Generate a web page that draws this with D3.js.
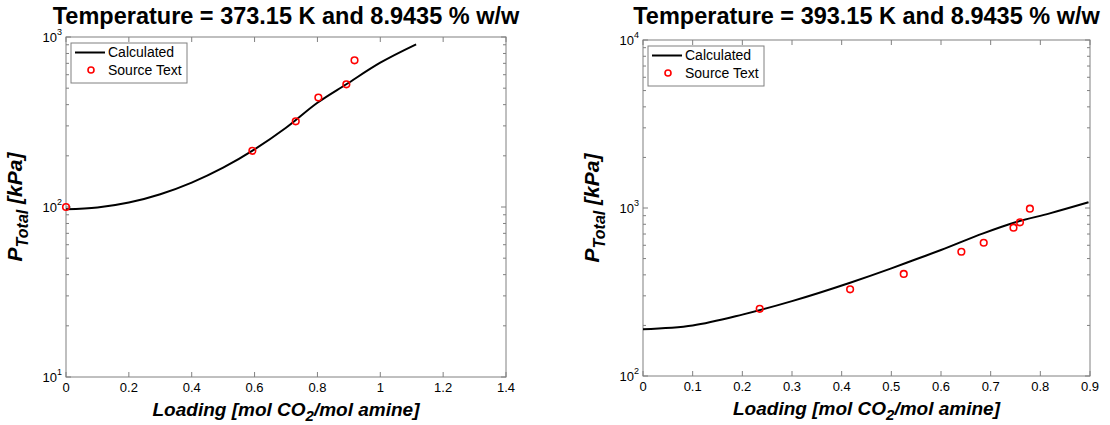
<!DOCTYPE html>
<html>
<head>
<meta charset="utf-8">
<script src="https://cdn.jsdelivr.net/npm/d3@7"></script>
<style>
  body { margin: 0; background: #fff; }
  svg { display: block; font-family: "Liberation Sans", Arial, sans-serif; }
</style>
</head>
<body>
<svg id="chart" width="1110" height="425"></svg>
<script>
// left panel: 373.15 K
var calcX1 = [0, 0.1, 0.2, 0.3, 0.4, 0.5, 0.6, 0.7, 0.8, 0.892, 1.0, 1.114];
var calcY1 = [97, 99.3, 106.2, 118.9, 139.2, 170.4, 218.3, 292.4, 410.2, 527.2, 706.3, 905.7];
var srcX1 = [0, 0.593, 0.731, 0.803, 0.892, 0.918];
var srcY1 = [100, 214, 319, 440, 527, 729];

// right panel: 393.15 K
var calcX2 = [0, 0.1, 0.2, 0.3, 0.417, 0.5, 0.551, 0.6, 0.685, 0.75, 0.819, 0.897];
var calcY2 = [190, 200, 232, 279, 359, 437, 497, 562, 706, 822, 929, 1081];
var srcX2 = [0.235, 0.417, 0.525, 0.641, 0.686, 0.746, 0.759, 0.779];
var srcY2 = [251, 328, 405, 549, 621, 764, 822, 991];

var xTicks1 = [0, 0.2, 0.4, 0.6, 0.8, 1, 1.2, 1.4];
var xTicks2 = [0, 0.1, 0.2, 0.3, 0.4, 0.5, 0.6, 0.7, 0.8, 0.9];

var svg = d3.select('#chart');
var AXIS = '#808080';

function panel(opt) {
    var x = d3.scaleLinear().domain(opt.xDomain).range([opt.left, opt.right]);
    var y = d3.scaleLog().domain(opt.yDomain).range([opt.bottom, opt.top]);
    var g = svg.append('g');

    // title
    g.append('text')
        .attr('x', (opt.left + opt.right) / 2)
        .attr('y', 24)
        .attr('text-anchor', 'middle')
        .style('font-size', '23.5px')
        .style('font-weight', 'bold')
        .text(opt.title);

    // box
    g.append('rect')
        .attr('x', opt.left).attr('y', opt.top)
        .attr('width', opt.right - opt.left)
        .attr('height', opt.bottom - opt.top)
        .attr('fill', 'none')
        .attr('stroke', AXIS)
        .attr('stroke-width', 1);

    // x ticks, inward on bottom and top
    opt.xTicks.forEach(function (t) {
        var px = x(t);
        g.append('line').attr('x1', px).attr('x2', px)
            .attr('y1', opt.bottom).attr('y2', opt.bottom - 5)
            .attr('stroke', AXIS);
        g.append('line').attr('x1', px).attr('x2', px)
            .attr('y1', opt.top).attr('y2', opt.top + 5)
            .attr('stroke', AXIS);
        g.append('text')
            .attr('x', px).attr('y', opt.bottom + 15)
            .attr('text-anchor', 'middle')
            .style('font-size', '13px')
            .text(d3.format('~g')(t));
    });

    // y ticks: majors + log minors
    var lo = Math.log10(opt.yDomain[0]), hi = Math.log10(opt.yDomain[1]);
    for (var e = lo; e <= hi; e++) {
        for (var m = 1; m < 10; m++) {
            var v = m * Math.pow(10, e);
            if (v > opt.yDomain[1]) break;
            var py = y(v);
            var len = m === 1 ? 5 : 3;
            g.append('line').attr('x1', opt.left).attr('x2', opt.left + len)
                .attr('y1', py).attr('y2', py).attr('stroke', AXIS);
            g.append('line').attr('x1', opt.right).attr('x2', opt.right - len)
                .attr('y1', py).attr('y2', py).attr('stroke', AXIS);
        }
        var lbl = g.append('text')
            .attr('x', opt.left - 4).attr('y', y(Math.pow(10, e)) + 5)
            .attr('text-anchor', 'end')
            .style('font-size', '13px');
        lbl.append('tspan').text('10');
        lbl.append('tspan').attr('dy', -7).style('font-size', '9px').text(e);
    }

    // axis labels
    var xl = g.append('text')
        .attr('x', (opt.left + opt.right) / 2)
        .attr('y', opt.bottom + 39)
        .attr('text-anchor', 'middle')
        .style('font-size', '19px')
        .style('font-weight', 'bold')
        .style('font-style', 'italic');
    xl.append('tspan').text('Loading [mol CO');
    xl.append('tspan').attr('dy', 5).style('font-size', '15px').text('2');
    xl.append('tspan').attr('dy', -5).text('/mol amine]');

    var ly = (opt.top + opt.bottom) / 2;
    var yl = g.append('text')
        .attr('transform', 'translate(' + (opt.left - 44) + ',' + ly + ') rotate(-90)')
        .attr('text-anchor', 'middle')
        .style('font-size', '21px')
        .style('font-weight', 'bold')
        .style('font-style', 'italic');
    yl.append('tspan').text('P');
    yl.append('tspan').attr('dy', 6).style('font-size', '16px').text('Total');
    yl.append('tspan').attr('dy', -6).text(' [kPa]');

    // calculated curve
    var line = d3.line()
        .x(function (d) { return x(d[0]); })
        .y(function (d) { return y(d[1]); })
        .curve(d3.curveMonotoneX);
    g.append('path')
        .datum(d3.zip(opt.calcX, opt.calcY))
        .attr('d', line)
        .attr('fill', 'none')
        .attr('stroke', '#000')
        .attr('stroke-width', 2);

    // source points
    g.selectAll('.src')
        .data(d3.zip(opt.srcX, opt.srcY))
        .enter()
        .append('circle')
        .attr('cx', function (d) { return x(d[0]); })
        .attr('cy', function (d) { return y(d[1]); })
        .attr('r', 3.3)
        .attr('fill', 'none')
        .attr('stroke', '#ff0000')
        .attr('stroke-width', 1.6);

    // legend
    var lx = opt.left + 5, lyy = opt.top + 6;
    var leg = g.append('g');
    leg.append('rect')
        .attr('x', lx).attr('y', lyy)
        .attr('width', 116).attr('height', 40)
        .attr('fill', '#fff')
        .attr('stroke', AXIS);
    leg.append('line')
        .attr('x1', lx + 4).attr('x2', lx + 34)
        .attr('y1', lyy + 9.5).attr('y2', lyy + 9.5)
        .attr('stroke', '#000').attr('stroke-width', 2);
    leg.append('circle')
        .attr('cx', lx + 20).attr('cy', lyy + 27).attr('r', 3)
        .attr('fill', 'none').attr('stroke', '#ff0000').attr('stroke-width', 1.6);
    leg.append('text').attr('x', lx + 37).attr('y', lyy + 14)
        .style('font-size', '14px').text('Calculated');
    leg.append('text').attr('x', lx + 37).attr('y', lyy + 32)
        .style('font-size', '14px').text('Source Text');
}

panel({
    title: 'Temperature = 373.15 K and 8.9435 % w/w',
    left: 66, right: 506, top: 37, bottom: 377,
    xDomain: [0, 1.4], yDomain: [10, 1000], xTicks: xTicks1,
    calcX: calcX1, calcY: calcY1, srcX: srcX1, srcY: srcY1
});

panel({
    title: 'Temperature = 393.15 K and 8.9435 % w/w',
    left: 643, right: 1090, top: 40, bottom: 376,
    xDomain: [0, 0.9], yDomain: [100, 10000], xTicks: xTicks2,
    calcX: calcX2, calcY: calcY2, srcX: srcX2, srcY: srcY2
});
</script>
</body>
</html>
